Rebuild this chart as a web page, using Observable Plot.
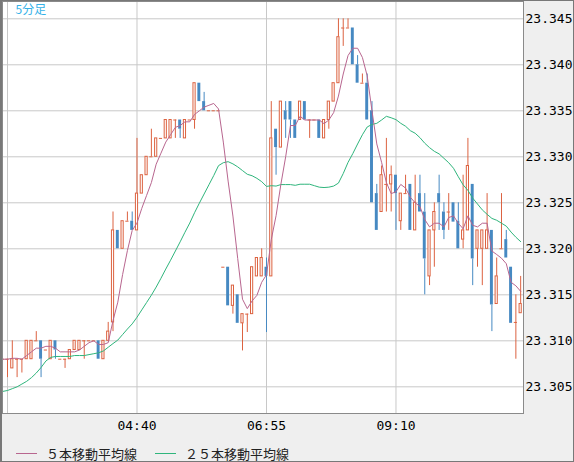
<!DOCTYPE html>
<html>
<head>
<meta charset="utf-8">
<script src="https://cdn.jsdelivr.net/npm/d3@7"></script>
<script src="https://cdn.jsdelivr.net/npm/@observablehq/plot@0.6"></script>
<style>
  html, body { margin: 0; padding: 0; background: #ffffff; }
  #chart {
    position: relative; width: 574px; height: 462px; box-sizing: border-box;
    border-left: 2px solid #787878; border-top: 1px solid #787878;
    border-right: 1px solid #787878; border-bottom: 1px solid #787878;
    background: #efefef; overflow: hidden;
  }
  #chart svg { display: block; }
  #legend {
    position: absolute; left: 0; top: 443px; height: 18px;
    display: flex; align-items: center;
    font-family: "Noto Sans CJK JP", sans-serif; font-size: 13px; color: #222;
  }
  #legend .sw { display: inline-block; height: 1px; }
</style>
</head>
<body>
<div id="chart"></div>
<script>
// ---- data (5-minute candles, first candle 02:20) ----
const startTime = "02:20";
const open = [
  23.308, 23.308, 23.307, 23.308, 23.308, 23.308, 23.308, 23.310, 23.310, 23.309,
  23.308, 23.310, 23.308, 23.308, 23.308, 23.309, 23.309, 23.310, 23.310, 23.310,
  23.310, 23.308, 23.310, 23.312, 23.322, 23.320, 23.323, 23.323, 23.322, 23.326,
  23.328, 23.330, 23.330, 23.332, 23.332, 23.332, 23.334, 23.334, 23.332, 23.334,
  23.334, 23.338, 23.336, 23.335, 23.335, 23.335, 23.318, 23.318, 23.3138, 23.315,
  23.3119, 23.3129, 23.3129, 23.317, 23.317, 23.318, 23.317, 23.333, 23.331, 23.335,
  23.336, 23.334, 23.334, 23.336, 23.334, 23.334, 23.334, 23.332, 23.334, 23.336,
  23.338, 23.344, 23.344, 23.344, 23.340, 23.338, 23.338, 23.335, 23.326, 23.324,
  23.327, 23.327, 23.328, 23.323, 23.326, 23.327, 23.322, 23.326, 23.324, 23.317,
  23.322, 23.326, 23.324, 23.324, 23.325, 23.323, 23.321, 23.322, 23.327, 23.320,
  23.320, 23.320, 23.322, 23.314, 23.320, 23.321, 23.318, 23.312, 23.313
];
const close = [
  23.308, 23.308, 23.308, 23.308, 23.308, 23.310, 23.310, 23.310, 23.308, 23.309,
  23.310, 23.309, 23.308, 23.308, 23.309, 23.310, 23.310, 23.310, 23.310, 23.310,
  23.308, 23.310, 23.311, 23.322, 23.320, 23.323, 23.323, 23.322, 23.326, 23.328,
  23.330, 23.330, 23.332, 23.332, 23.334, 23.334, 23.334, 23.333, 23.334, 23.334,
  23.338, 23.336, 23.335, 23.335, 23.335, 23.335, 23.318, 23.3138, 23.316, 23.3119,
  23.3129, 23.3129, 23.318, 23.319, 23.319, 23.317, 23.332, 23.331, 23.336, 23.334,
  23.334, 23.332, 23.336, 23.334, 23.334, 23.334, 23.332, 23.334, 23.336, 23.338,
  23.343, 23.344, 23.344, 23.340, 23.338, 23.338, 23.334, 23.325, 23.322, 23.328,
  23.327, 23.328, 23.326, 23.326, 23.326, 23.322, 23.325, 23.324, 23.3189, 23.322,
  23.324, 23.325, 23.322, 23.324, 23.3229, 23.320, 23.322, 23.329, 23.3189, 23.322,
  23.322, 23.322, 23.3139, 23.317, 23.320, 23.319, 23.3119, 23.312, 23.314
];
const high = [
  23.308, 23.308, 23.310, 23.308, 23.308, 23.310, 23.310, 23.311, 23.310, 23.309,
  23.310, 23.310, 23.308, 23.308, 23.309, 23.310, 23.310, 23.310, 23.310, 23.310,
  23.310, 23.310, 23.312, 23.324, 23.322, 23.323, 23.324, 23.324, 23.332, 23.328,
  23.330, 23.333, 23.332, 23.332, 23.334, 23.334, 23.334, 23.334, 23.334, 23.334,
  23.338, 23.338, 23.337, 23.335, 23.335, 23.335, 23.318, 23.318, 23.316, 23.315,
  23.3129, 23.3129, 23.318, 23.319, 23.320, 23.319, 23.336, 23.333, 23.336, 23.336,
  23.336, 23.334, 23.336, 23.336, 23.334, 23.334, 23.334, 23.334, 23.336, 23.338,
  23.345, 23.345, 23.345, 23.344, 23.341, 23.339, 23.339, 23.336, 23.327, 23.329,
  23.332, 23.329, 23.328, 23.326, 23.328, 23.327, 23.328, 23.328, 23.326, 23.322,
  23.325, 23.328, 23.325, 23.326, 23.325, 23.325, 23.328, 23.332, 23.327, 23.322,
  23.322, 23.326, 23.322, 23.319, 23.326, 23.322, 23.318, 23.315, 23.317
];
const low = [
  23.308, 23.306, 23.307, 23.306, 23.3065, 23.308, 23.308, 23.310, 23.306, 23.309,
  23.308, 23.308, 23.308, 23.307, 23.308, 23.309, 23.309, 23.308, 23.310, 23.310,
  23.308, 23.308, 23.310, 23.311, 23.320, 23.320, 23.323, 23.322, 23.322, 23.326,
  23.328, 23.330, 23.330, 23.332, 23.332, 23.332, 23.332, 23.332, 23.332, 23.334,
  23.333, 23.336, 23.335, 23.335, 23.335, 23.335, 23.318, 23.3138, 23.3129, 23.3119,
  23.3089, 23.3109, 23.3129, 23.317, 23.317, 23.3109, 23.317, 23.328, 23.331, 23.332,
  23.332, 23.332, 23.334, 23.334, 23.332, 23.334, 23.332, 23.332, 23.333, 23.336,
  23.338, 23.342, 23.344, 23.340, 23.338, 23.338, 23.334, 23.325, 23.322, 23.324,
  23.324, 23.324, 23.322, 23.322, 23.326, 23.322, 23.322, 23.324, 23.315, 23.316,
  23.318, 23.322, 23.321, 23.322, 23.3229, 23.320, 23.320, 23.322, 23.316, 23.318,
  23.316, 23.320, 23.311, 23.314, 23.320, 23.319, 23.3119, 23.308, 23.313
];
// moving-average values before enough candles are on screen
const ma5Lead = [23.3080, 23.3080, 23.3081, 23.3081];
const ma25Lead = [
  23.3045, 23.3046, 23.3048, 23.3050, 23.3053, 23.3056, 23.3060, 23.3065, 23.3071, 23.3078,
  23.3082, 23.3083, 23.3083, 23.3083, 23.3083, 23.3084, 23.3084, 23.3084, 23.3085, 23.3086,
  23.3087, 23.3089, 23.3093, 23.3097
];
const yTicks = [23.305, 23.310, 23.315, 23.320, 23.325, 23.330, 23.335, 23.340, 23.345];
const gridTimes = ["02:25", "04:40", "06:55", "09:10"];
const xTickLabels = ["04:40", "06:55", "09:10"];
const xDomain = ["02:19:47", "11:22:57"];
const yDomain = [23.3021, 23.34688];
const title = "5分足";
const legendItems = [
  {label: "５本移動平均線", color: "#b8668f"},
  {label: "２５本移動平均線", color: "#2fb57c"}
];

// ---- build ----
const upColor = "#dc6240", downColor = "#4689c2";
const t = s => {
  const [h, m, sec] = s.split(":").map(Number);
  return new Date(Date.UTC(2024, 0, 1, h, m, sec || 0));
};
const t0 = t(startTime);
const ma = (n, lead) => close.map((c, i) => i < lead.length ? lead[i] : d3.mean(close.slice(i - n + 1, i + 1)));
const ma5 = ma(5, ma5Lead), ma25 = ma(25, ma25Lead);
const data = open.map((o, i) => ({
  t: d3.utcMinute.offset(t0, 5 * i), o, c: close[i], h: high[i], l: low[i], ma5: ma5[i], ma25: ma25[i]
}));
const up = data.filter(d => d.c > d.o);
const down = data.filter(d => d.c < d.o);
const doji = data.filter(d => d.c === d.o);
const sec = (d, s) => d3.utcSecond.offset(d.t, s);
const col = d => d.c < d.o ? downColor : upColor;

const chart = Plot.plot({
  width: 571, height: 440,
  marginLeft: 0, marginRight: 50, marginTop: 0, marginBottom: 28,
  style: {background: "transparent", fontFamily: "DejaVu Sans Mono", fontSize: "13px", color: "#000"},
  x: {type: "utc", domain: xDomain.map(t)},
  y: {domain: yDomain},
  marks: [
    Plot.frame({fill: "white", stroke: "none"}),
    Plot.gridY(yTicks, {stroke: "#c8c8c8", strokeOpacity: 1}),
    Plot.gridX(gridTimes.map(t), {stroke: "#c8c8c8", strokeOpacity: 1}),
    Plot.ruleX(data, {x: "t", y1: d => Math.max(d.o, d.c), y2: "h", stroke: col, clip: true}),
    Plot.ruleX(data, {x: "t", y1: "l", y2: d => Math.min(d.o, d.c), stroke: col, clip: true}),
    Plot.rect(down, {x1: d => sec(d, -92), x2: d => sec(d, 92), y1: "c", y2: "o", fill: downColor, clip: true}),
    Plot.rect(up, {x1: d => sec(d, -68), x2: d => sec(d, 68), y1: "o", y2: "c", fill: "white", stroke: upColor, clip: true}),
    Plot.ruleY(doji, {y: "o", x1: d => sec(d, -100), x2: d => sec(d, 100), stroke: upColor, clip: true}),
    Plot.line(data, {x: "t", y: "ma25", stroke: legendItems[1].color, strokeWidth: 1, clip: true}),
    Plot.line(data, {x: "t", y: "ma5", stroke: legendItems[0].color, strokeWidth: 1, clip: true}),
    Plot.frame({stroke: "#8a8a8a"}),
    Plot.axisY(yTicks, {anchor: "right", tickSize: 0, tickPadding: 2, tickFormat: d3.format(".3f"), label: null, fill: "#000"}),
    Plot.axisX(xTickLabels.map(t), {anchor: "bottom", tickSize: 0, tickPadding: 7, tickFormat: d3.utcFormat("%H:%M"), label: null, fill: "#000"}),
    Plot.text([title], {frameAnchor: "top-left", dx: 13, dy: 9, text: d => d, fill: "#35b2e8", fontSize: 12, fontFamily: "Noto Sans CJK JP", textAnchor: "start", lineAnchor: "middle"})
  ]
});
const root = document.getElementById("chart");
root.appendChild(chart);

const legend = document.createElement("div");
legend.id = "legend";
legendItems.forEach((it, i) => {
  const sw = document.createElement("span");
  sw.className = "sw";
  sw.style.background = it.color;
  sw.style.width = "21px";
  sw.style.marginLeft = i === 0 ? "14px" : "18px";
  sw.style.marginRight = "9px";
  const tx = document.createElement("span");
  tx.textContent = it.label;
  legend.appendChild(sw);
  legend.appendChild(tx);
});
root.appendChild(legend);
</script>
</body>
</html>
